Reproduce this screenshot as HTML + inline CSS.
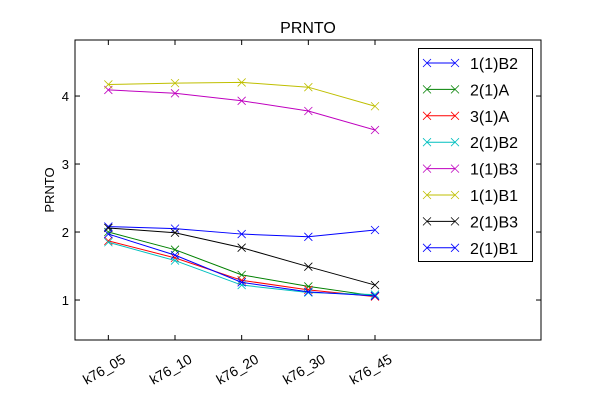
<!DOCTYPE html>
<html><head><meta charset="utf-8"><style>
body{margin:0;background:#fff;}
svg text{font-family:"Liberation Sans","DejaVu Sans",sans-serif;}
</style></head><body>
<svg id="chart" width="600" height="400" xmlns="http://www.w3.org/2000/svg">
<rect width="600" height="400" fill="#fff"/>
<text x="308" y="33" font-size="16" text-anchor="middle">PRNTO</text>
<text x="54" y="190" font-size="13" text-anchor="middle" transform="rotate(-90 54 190)">PRNTO</text>
<g id="plot"></g>
<rect x="75" y="40" width="466" height="300" fill="none" stroke="#000" stroke-width="1"/>
<g id="legend"></g>
</svg>
<script>
const categories = ["k76_05","k76_10","k76_20","k76_30","k76_45"];
const seriesNames = ["1(1)B2","2(1)A","3(1)A","2(1)B2","1(1)B3","1(1)B1","2(1)B3","2(1)B1"];
const seriesColors = ["#0000ff","#008000","#ff0000","#00bfbf","#bf00bf","#bfbf00","#000000","#0000ff"];
const s_1_1_B2 = [2.08,2.05,1.97,1.93,2.03];
const s_2_1_A = [2.00,1.74,1.37,1.20,1.06];
const s_3_1_A = [1.87,1.62,1.29,1.15,1.05];
const s_2_1_B2 = [1.85,1.58,1.22,1.11,1.08];
const s_1_1_B3 = [4.09,4.04,3.93,3.78,3.50];
const s_1_1_B1 = [4.17,4.19,4.20,4.13,3.85];
const s_2_1_B3 = [2.06,1.99,1.77,1.49,1.22];
const s_2_1_B1 = [1.97,1.66,1.26,1.12,1.06];
const seriesValues = [s_1_1_B2,s_2_1_A,s_3_1_A,s_2_1_B2,s_1_1_B3,s_1_1_B1,s_2_1_B3,s_2_1_B1];
const yTicks = [1,2,3,4];

const NS="http://www.w3.org/2000/svg";
const L=75,R=541,T=40,B=340;
const xMin=-0.5,xMax=6.49,yMin=0.412,yMax=4.824;
function xs(i){return L+(i-xMin)/(xMax-xMin)*(R-L);}
function ys(v){return B-(v-yMin)/(yMax-yMin)*(B-T);}
function mk(tag,attrs,parent){const e=document.createElementNS(NS,tag);for(const k in attrs)e.setAttribute(k,attrs[k]);parent.appendChild(e);return e;}
const plot=document.getElementById('plot');
categories.forEach((c,i)=>{
  const x=xs(i);
  const t1=mk('line',{x1:x,x2:x,y1:B,y2:B-5,stroke:'#000'},plot);
  
  
  const t2=mk('line',{x1:x,x2:x,y1:T,y2:T+5,stroke:'#000'},plot);
  
  
  const ax=x+18, ay=B+22;
  const lb=mk('text',{x:ax,y:ay,'font-size':14,'text-anchor':'end',transform:`rotate(-30 ${ax} ${ay})`},plot);
  lb.textContent=c;
  
  
});
yTicks.forEach(v=>{
  const y=ys(v);
  const t1=mk('line',{x1:L,x2:L+5,y1:y,y2:y,stroke:'#000'},plot);
  
  
  const t2=mk('line',{x1:R,x2:R-5,y1:y,y2:y,stroke:'#000'},plot);
  
  
  const lb=mk('text',{x:L-6,y:y+5,'font-size':13,'text-anchor':'end'},plot);
  lb.textContent=v;
  
  
});
function cross(g,x,y,c){
  mk('path',{d:`M${x-4},${y-4}L${x+4},${y+4}M${x-4},${y+4}L${x+4},${y-4}`,stroke:c,'stroke-width':0.8,fill:'none'},g);
}
seriesValues.forEach((vals,si)=>{
  const g=mk('g',{},plot);
  
  
  const pts=vals.map((v,i)=>xs(i)+','+ys(v)).join(' ');
  mk('polyline',{points:pts,fill:'none',stroke:seriesColors[si],'stroke-width':1},g);
  vals.forEach((v,i)=>cross(g,xs(i),ys(v),seriesColors[si]));
});
const leg=document.getElementById('legend');
const box=mk('rect',{x:418.5,y:48.5,width:114,height:213,fill:'#fff',stroke:'#000'},leg);


seriesNames.forEach((n,i)=>{
  const y=63+i*26.4;
  const g=mk('g',{},leg);
  
  
  mk('line',{x1:427,x2:455,y1:y,y2:y,stroke:seriesColors[i]},g);
  cross(g,427,y,seriesColors[i]);cross(g,455,y,seriesColors[i]);
  const t=mk('text',{x:470,y:y+6,'font-size':16},g);
  t.textContent=n;
});
</script>
</body></html>
